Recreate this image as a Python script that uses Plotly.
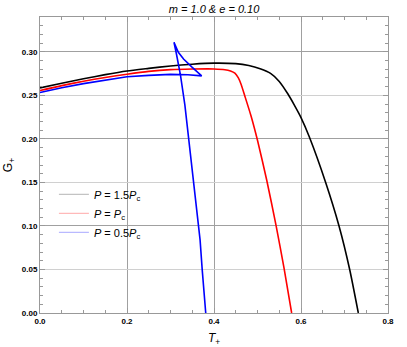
import plotly.graph_objects as go

# ---- data ----
T_black = [0, 0.05, 0.1, 0.15, 0.2, 0.25, 0.3, 0.35, 0.4, 0.45, 0.48, 0.506, 0.53, 0.55,
           0.57, 0.585, 0.6, 0.619, 0.6567, 0.6874, 0.7119, 0.7318]
G_black = [0.2586, 0.2640, 0.2690, 0.2738, 0.2780, 0.2810, 0.2838, 0.2858, 0.2870, 0.2864,
           0.2842, 0.2805, 0.2752, 0.2660, 0.2515, 0.2385, 0.2245, 0.2025, 0.150, 0.100,
           0.050, 0.0]

T_red = [0, 0.05, 0.1, 0.15, 0.2, 0.25, 0.3, 0.35, 0.4, 0.425, 0.438, 0.448, 0.456, 0.462,
         0.471, 0.485, 0.5004, 0.521, 0.5425, 0.561, 0.5785]
G_red = [0.2555, 0.2612, 0.2662, 0.2706, 0.2743, 0.2775, 0.2795, 0.2802, 0.2803, 0.2795,
         0.2780, 0.2755, 0.2700, 0.2630, 0.249, 0.2265, 0.1975, 0.153, 0.101, 0.0515, 0.0]

T_blue = [0, 0.05, 0.1, 0.15, 0.2, 0.25, 0.3, 0.34, 0.3716,
          0.35, 0.33, 0.318, 0.308,
          0.314, 0.323, 0.333, 0.345, 0.357, 0.368, 0.373, 0.381]
G_blue = [0.2532, 0.2588, 0.2635, 0.2678, 0.2713, 0.2730, 0.2741, 0.2736, 0.2724,
          0.2822, 0.2917, 0.2995, 0.311,
          0.2966, 0.273, 0.239, 0.186, 0.133, 0.084, 0.049, 0.0]

legend_labels = ["<i>P</i> = 1.5<i>P</i><sub>c</sub>",
                 "<i>P</i> = <i>P</i><sub>c</sub>",
                 "<i>P</i> = 0.5<i>P</i><sub>c</sub>"]
legend_colors = ["#b4b4b4", "#ffa8a8", "#a8a8ff"]

x_ticks = [0.0, 0.2, 0.4, 0.6, 0.8]
y_ticks = [0.00, 0.05, 0.10, 0.15, 0.20, 0.25, 0.30]
y_dark_grid = [0.10, 0.20, 0.30]

fig = go.Figure()

# invisible trace on base axes
fig.add_trace(go.Scatter(x=[None], y=[None], xaxis="x", yaxis="y", showlegend=False,
                         hoverinfo="skip"))

for T, G, c in [(T_black, G_black, "black"), (T_red, G_red, "#ff0000")]:
    fig.add_trace(go.Scatter(x=T, y=G, mode="lines", yaxis="y2",
                             line=dict(color=c, width=1.6, shape="spline", smoothing=0.6),
                             showlegend=False))
fig.add_trace(go.Scatter(x=T_blue, y=G_blue, mode="lines", yaxis="y2",
                         line=dict(color="#0000ff", width=1.6), showlegend=False))

for lab, col in zip(legend_labels, legend_colors):
    fig.add_trace(go.Scatter(x=[None], y=[None], mode="lines", name=lab, yaxis="y2",
                             line=dict(color=col, width=1)))

tickfont = dict(family="Liberation Sans, Arial", size=8, color="black", weight="bold")

fig.update_layout(
    width=407, height=347,
    margin=dict(l=40, r=19, t=17, b=34),
    paper_bgcolor="white", plot_bgcolor="white",
    title=dict(text="<i>m = 1.0 & e = 0.10</i>", x=0.526, xanchor="center",
               y=0.985, yanchor="top",
               font=dict(family="Liberation Sans, Arial", size=11, color="black")),
    xaxis=dict(range=[0, 0.8], tickvals=x_ticks, ticktext=[f"{v:.1f}" for v in x_ticks],
               ticks="inside", ticklen=5, tickcolor="#999", tickwidth=1,
               minor=dict(dtick=0.05, tick0=0, ticks="inside", ticklen=3, tickcolor="#999"),
               showgrid=True, gridcolor="#a0a0a0", gridwidth=1, automargin=False,
               showline=True, linecolor="#999", linewidth=1, mirror="ticks",
               zeroline=False, tickfont=tickfont,
               title=dict(text="<i>T</i><sub>+</sub>", standoff=9,
                          font=dict(family="Liberation Sans, Arial", size=12, color="black"))),
    yaxis=dict(range=[0, 0.34], tickvals=y_ticks, ticktext=[f"{v:.2f}" for v in y_ticks],
               ticks="inside", ticklen=5, tickcolor="#999", tickwidth=1,
               minor=dict(dtick=0.01, tick0=0, ticks="inside", ticklen=3, tickcolor="#999"),
               showgrid=True, gridcolor="#d0d0d0", gridwidth=1, automargin=False,
               showline=True, linecolor="#999", linewidth=1, mirror="ticks",
               zeroline=False, tickfont=tickfont,
               title=dict(text="G<sub>+</sub>", standoff=6,
                          font=dict(family="Liberation Sans, Arial", size=12, color="black"))),
    yaxis2=dict(range=[0, 0.34], overlaying="y", tickvals=y_dark_grid, showticklabels=False,
                ticks="", showgrid=True, gridcolor="#a0a0a0", gridwidth=1, automargin=False,
                showline=False, zeroline=False),
    legend=dict(x=0.04, y=0.45, xanchor="left", yanchor="top",
                bgcolor="rgba(0,0,0,0)", tracegroupgap=0,
                font=dict(family="Liberation Sans, Arial", size=11, color="black")),
)

fig.write_html("out.html", config={"displayModeBar": False},
               post_script="document.body.style.margin='0';")
